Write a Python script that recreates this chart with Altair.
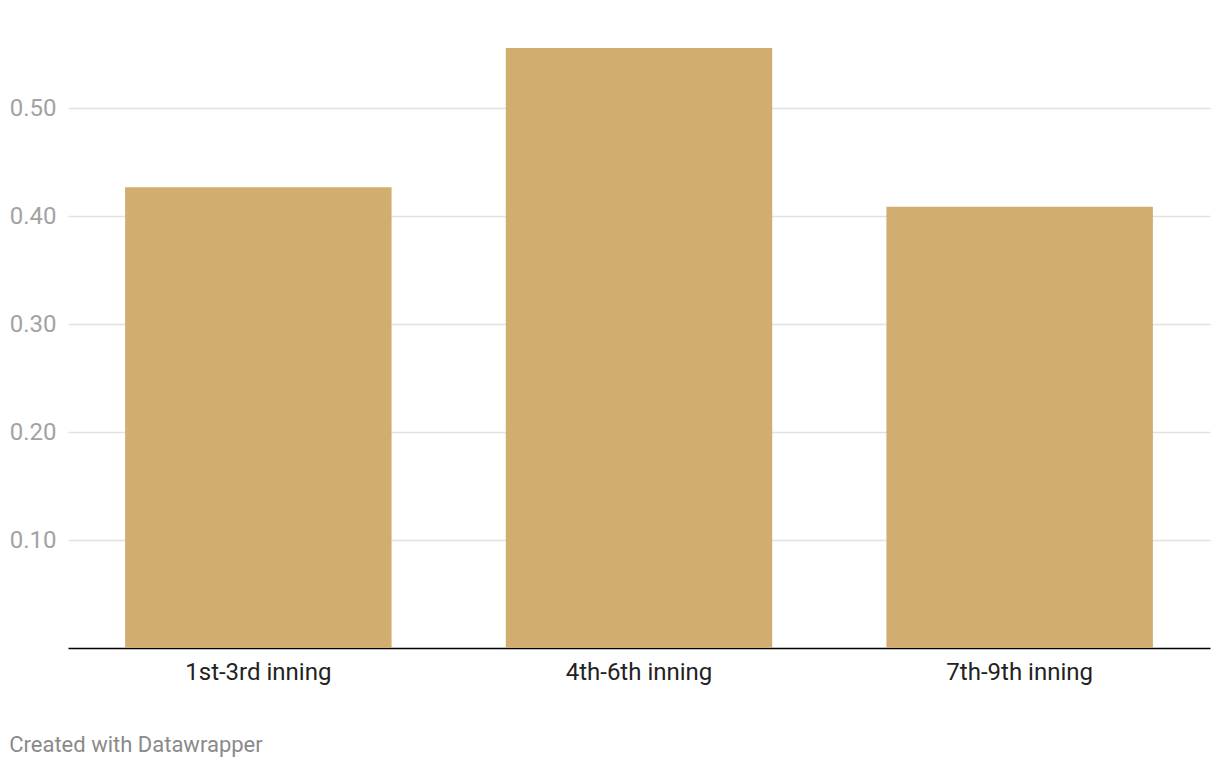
import altair as alt
import pandas as pd

categories = ["1st-3rd inning", "4th-6th inning", "7th-9th inning"]
values = [0.427, 0.556, 0.409]
y_ticks = [0.1, 0.2, 0.3, 0.4, 0.5]

df = pd.DataFrame({"inning": categories, "value": values})

chart = alt.Chart(df).mark_bar(color="#D1AD6F").encode(
    x=alt.X("inning:N", sort=categories, title=None,
            scale=alt.Scale(paddingInner=0.3, paddingOuter=0.15),
            axis=alt.Axis(labelAngle=0, labelFont="Roboto", labelFontSize=24,
                          labelColor="#222222", labelPadding=12, ticks=False,
                          domainColor="#000000", domainWidth=1.5)),
    y=alt.Y("value:Q", title=None,
            scale=alt.Scale(domain=[0, 0.556], nice=False, zero=True),
            axis=alt.Axis(values=y_ticks, format=".2f", labelFont="Roboto",
                          labelFontSize=24, labelColor="#A3A3A3", labelPadding=12,
                          ticks=False, domain=False, gridColor="#E2E2E2",
                          gridWidth=1.5)),
).properties(
    width=1142,
    height=600,
    autosize=alt.AutoSizeParams(type="none"),
    padding={"left": 60, "top": 40, "right": 2, "bottom": 112},
    title=alt.TitleParams("Created with Datawrapper", orient="bottom", anchor="start",
                          frame="bounds", font="Roboto", fontSize=22, fontWeight="normal",
                          color="#8A8A8A", offset=51),
).configure_view(stroke=None)

chart.save("out.html", embed_options={"renderer": "svg", "actions": False})
